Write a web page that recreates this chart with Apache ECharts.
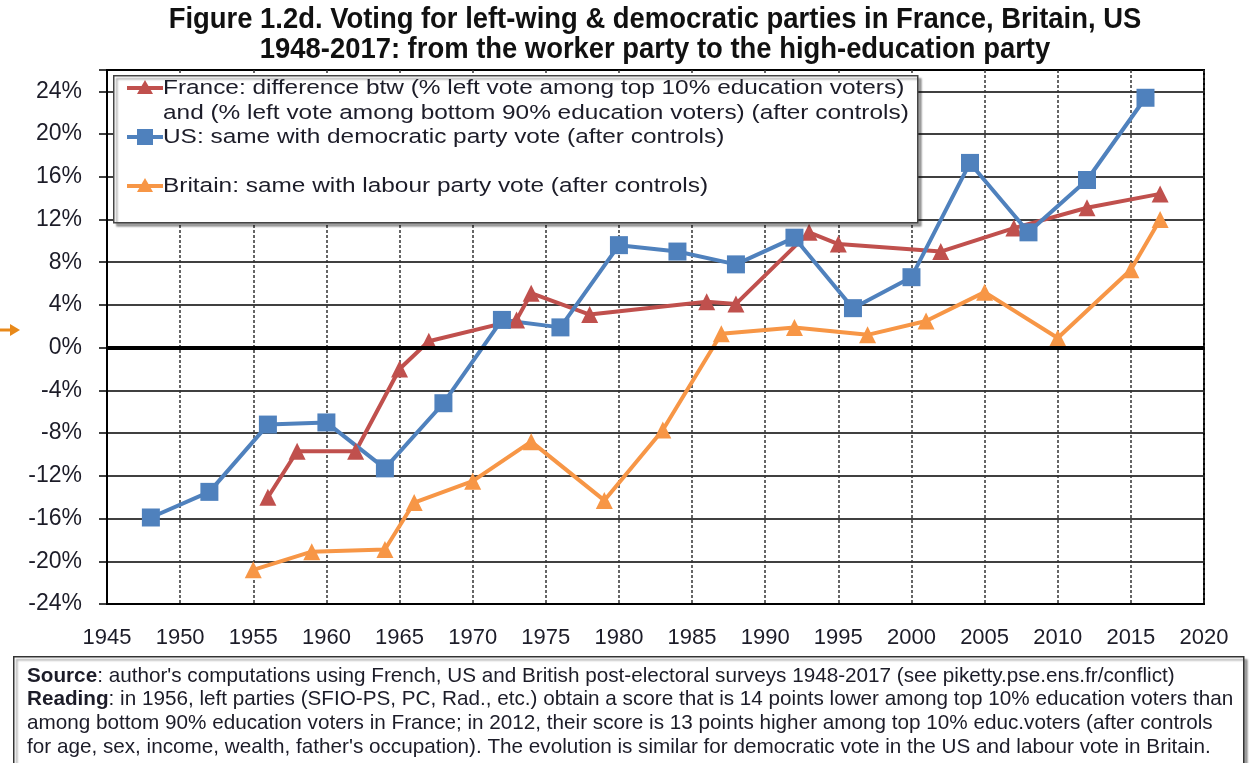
<!DOCTYPE html>
<html>
<head>
<meta charset="utf-8">
<script src="https://cdn.jsdelivr.net/npm/echarts@6/dist/echarts.min.js"></script>
<style>
html,body{margin:0;padding:0;background:#fff;}
#chart{width:1258px;height:763px;}
</style>
</head>
<body>
<div id="chart"></div>
<script>
// ---- data ----
const titleLines = [
  "Figure 1.2d. Voting for left-wing & democratic parties in France, Britain, US",
  "1948-2017: from the worker party to the high-education party"
];
const seriesNames = ["France", "US", "Britain"];
const legendLines = [
  "France: difference btw (% left vote among top 10% education voters)",
  "and (% left vote among bottom 90% education voters) (after controls)",
  "US: same with democratic party vote (after controls)",
  "Britain: same with labour party vote (after controls)"
];
const franceYears  = [1956, 1958, 1962, 1965, 1967, 1973, 1974, 1978, 1986, 1988, 1993, 1995, 2002, 2007, 2012, 2017];
const franceValues = [-14.0, -9.7, -9.7, -2.0, 0.6, 2.6, 5.1, 3.1, 4.3, 4.1, 10.8, 9.7, 9.0, 11.2, 13.1, 14.4];
const usYears  = [1948, 1952, 1956, 1960, 1964, 1968, 1972, 1976, 1980, 1984, 1988, 1992, 1996, 2000, 2004, 2008, 2012, 2016];
const usValues = [-15.9, -13.5, -7.2, -7.0, -11.3, -5.2, 2.6, 1.9, 9.6, 9.0, 7.8, 10.3, 3.7, 6.6, 17.3, 10.8, 15.7, 23.4];
const britainYears  = [1955, 1959, 1964, 1966, 1970, 1974, 1979, 1983, 1987, 1992, 1997, 2001, 2005, 2010, 2015, 2017];
const britainValues = [-20.8, -19.1, -18.9, -14.5, -12.5, -8.8, -14.3, -7.7, 1.3, 1.9, 1.2, 2.5, 5.2, 0.9, 7.3, 12.0];
const yTicks = [-24, -20, -16, -12, -8, -4, 0, 4, 8, 12, 16, 20, 24];
const xTicks = [1945, 1950, 1955, 1960, 1965, 1970, 1975, 1980, 1985, 1990, 1995, 2000, 2005, 2010, 2015, 2020];
const sourceLines = [
  ["Source", ": author's computations using French, US and British post-electoral surveys 1948-2017 (see piketty.pse.ens.fr/conflict)"],
  ["Reading", ": in 1956, left parties (SFIO-PS, PC, Rad., etc.) obtain a score that is 14 points lower among top 10% education voters than"],
  ["", "among bottom 90% education voters in France; in 2012, their score is 13 points higher among top 10% educ.voters (after controls"],
  ["", "for age, sex, income, wealth, father's occupation). The evolution is similar for democratic vote in the US and labour vote in Britain."]
];

// ---- styling ----
const colors = { France: '#C0504D', US: '#4F81BD', Britain: '#F79646' };
const sans = '"Liberation Sans", Arial, sans-serif';
const textColor = '#1c1c28';

function pairs(xs, ys) { return xs.map((x, i) => [x, ys[i]]); }

const chart = echarts.init(document.getElementById('chart'), null, { renderer: 'canvas' });

const legendX = 113, legendY = 75, legendW = 804, legendH = 147;
const legendRows = [
  { y: 88, name: 'France', symbol: 'triangle' },
  { y: 137, name: 'US', symbol: 'square' },
  { y: 186, name: 'Britain', symbol: 'triangle' }
];

const graphics = [];
// legend box
graphics.push({
  type: 'rect', z: 100, left: legendX, top: legendY,
  shape: { width: legendW, height: legendH },
  style: { fill: '#fff', stroke: '#444', lineWidth: 1.5, shadowBlur: 2, shadowOffsetX: 3, shadowOffsetY: 3, shadowColor: 'rgba(0,0,0,0.35)' }
});
legendRows.forEach(r => {
  const c = colors[r.name];
  graphics.push({ type: 'line', z: 101, shape: { x1: 127, y1: r.y, x2: 163, y2: r.y }, style: { stroke: c, lineWidth: 4 } });
  if (r.symbol === 'triangle') {
    graphics.push({ type: 'polygon', z: 102, shape: { points: [[145, r.y - 8], [153, r.y + 6], [137, r.y + 6]] }, style: { fill: c } });
  } else {
    graphics.push({ type: 'rect', z: 102, shape: { x: 137, y: r.y - 8, width: 16, height: 16 }, style: { fill: c } });
  }
});
const legendTextY = [88, 113, 137, 186];
legendLines.forEach((t, i) => {
  graphics.push({
    type: 'text', z: 103, x: 163, y: legendTextY[i], scaleX: 1.19, scaleY: 1,
    style: { text: t, font: '20.5px ' + sans, fill: textColor, textAlign: 'left', textVerticalAlign: 'middle' }
  });
});
// title
titleLines.forEach((t, i) => {
  graphics.push({
    type: 'text', z: 103, x: 655, y: 20 + i * 30, scaleX: 0.945, scaleY: 1,
    style: { text: t, font: 'bold 29px ' + sans, fill: '#111', textAlign: 'center', textVerticalAlign: 'middle' }
  });
});
// source box
graphics.push({
  type: 'rect', z: 100, left: 13, top: 656,
  shape: { width: 1230, height: 120 },
  style: { fill: '#fff', stroke: '#333', lineWidth: 1.5, shadowBlur: 2, shadowOffsetX: 3, shadowOffsetY: 3, shadowColor: 'rgba(0,0,0,0.35)' }
});
sourceLines.forEach((pair, i) => {
  graphics.push({
    type: 'text', z: 103, x: 27, y: 676 + i * 23.7,
    style: {
      text: (pair[0] ? '{b|' + pair[0] + '}' : '') + '{n|' + pair[1] + '}',
      textVerticalAlign: 'middle',
      rich: {
        b: { font: 'bold 20.7px ' + sans, fill: textColor },
        n: { font: '20.7px ' + sans, fill: textColor }
      }
    }
  });
});
// orange arrow annotation at left
graphics.push({ type: 'line', z: 103, shape: { x1: 0, y1: 330, x2: 12, y2: 330 }, style: { stroke: '#E8891A', lineWidth: 3 } });
graphics.push({ type: 'polygon', z: 103, shape: { points: [[10, 324], [20, 330], [10, 336]] }, style: { fill: '#E8891A' } });

const option = {
  animation: false,
  backgroundColor: '#fff',
  grid: { left: 107, right: 54, top: 70, bottom: 159, show: true, borderColor: '#000', borderWidth: 2, backgroundColor: '#fff' },
  xAxis: {
    type: 'value', min: xTicks[0], max: xTicks[xTicks.length - 1], interval: 5,
    axisLine: { show: true, lineStyle: { color: '#000', width: 2 } },
    axisTick: { show: false },
    axisLabel: { margin: 23, fontSize: 22, fontFamily: sans, color: textColor, formatter: v => String(v) },
    splitLine: { show: true, lineStyle: { color: '#333', width: 1.5, type: [3, 2] } }
  },
  yAxis: {
    type: 'value', min: yTicks[0], max: 26, interval: 4,
    axisLine: { show: true, lineStyle: { color: '#000', width: 2 } },
    axisTick: { show: true, inside: false, length: 8, lineStyle: { color: '#000', width: 1.5 } },
    axisLabel: { margin: 25, fontSize: 23, fontFamily: sans, color: textColor,
      formatter: v => (yTicks.indexOf(v) >= 0 ? v + '%' : '') },
    splitLine: { show: true, lineStyle: { color: '#000', width: 1.5 } }
  },
  series: [
    {
      name: 'France', type: 'line', data: pairs(franceYears, franceValues),
      symbol: 'triangle', symbolSize: 17,
      lineStyle: { color: colors.France, width: 4 }, itemStyle: { color: colors.France },
      markLine: { silent: true, symbol: 'none', label: { show: false },
        lineStyle: { color: '#000', width: 4, type: 'solid' }, data: [{ yAxis: 0 }] }
    },
    {
      name: 'Britain', type: 'line', data: pairs(britainYears, britainValues),
      symbol: 'triangle', symbolSize: 17,
      lineStyle: { color: colors.Britain, width: 4 }, itemStyle: { color: colors.Britain }
    },
    {
      name: 'US', type: 'line', data: pairs(usYears, usValues),
      symbol: 'rect', symbolSize: 18,
      lineStyle: { color: colors.US, width: 4 }, itemStyle: { color: colors.US }
    }
  ],
  graphic: graphics
};
chart.setOption(option);
</script>
</body>
</html>
